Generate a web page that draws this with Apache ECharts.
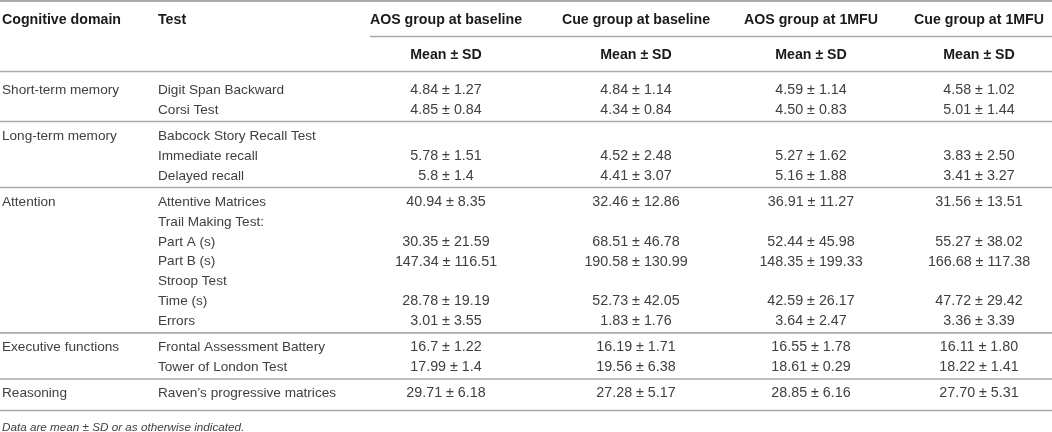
<!DOCTYPE html>
<html>
<head>
<meta charset="utf-8">
<script src="https://cdn.jsdelivr.net/npm/echarts@6/dist/echarts.min.js"></script>
<style>
    html, body { margin: 0; padding: 0; background: #fff; }
    #main { width: 1052px; height: 432px; }
</style>
</head>
<body>
<div id="main"></div>
<script>
// table content
const columns = ['Cognitive domain', 'Test', 'AOS group at baseline', 'Cue group at baseline', 'AOS group at 1MFU', 'Cue group at 1MFU'];
const subHeader = ['', '', 'Mean ± SD', 'Mean ± SD', 'Mean ± SD', 'Mean ± SD'];
const domains = ['Short-term memory', 'Long-term memory', 'Attention', 'Executive functions', 'Reasoning'];
const tests = ['Digit Span Backward', 'Corsi Test', 'Babcock Story Recall Test', 'Immediate recall', 'Delayed recall',
    'Attentive Matrices', 'Trail Making Test:', 'Part A (s)', 'Part B (s)', 'Stroop Test', 'Time (s)', 'Errors',
    'Frontal Assessment Battery', 'Tower of London Test', 'Raven\u2019s progressive matrices'];
const testGroup = [0, 0, 1, 1, 1, 2, 2, 2, 2, 2, 2, 2, 3, 3, 4];
const aosBaseline = ['4.84 ± 1.27', '4.85 ± 0.84', '', '5.78 ± 1.51', '5.8 ± 1.4', '40.94 ± 8.35', '', '30.35 ± 21.59',
    '147.34 ± 116.51', '', '28.78 ± 19.19', '3.01 ± 3.55', '16.7 ± 1.22', '17.99 ± 1.4', '29.71 ± 6.18'];
const cueBaseline = ['4.84 ± 1.14', '4.34 ± 0.84', '', '4.52 ± 2.48', '4.41 ± 3.07', '32.46 ± 12.86', '', '68.51 ± 46.78',
    '190.58 ± 130.99', '', '52.73 ± 42.05', '1.83 ± 1.76', '16.19 ± 1.71', '19.56 ± 6.38', '27.28 ± 5.17'];
const aosMfu = ['4.59 ± 1.14', '4.50 ± 0.83', '', '5.27 ± 1.62', '5.16 ± 1.88', '36.91 ± 11.27', '', '52.44 ± 45.98',
    '148.35 ± 199.33', '', '42.59 ± 26.17', '3.64 ± 2.47', '16.55 ± 1.78', '18.61 ± 0.29', '28.85 ± 6.16'];
const cueMfu = ['4.58 ± 1.02', '5.01 ± 1.44', '', '3.83 ± 2.50', '3.41 ± 3.27', '31.56 ± 13.51', '', '55.27 ± 38.02',
    '166.68 ± 117.38', '', '47.72 ± 29.42', '3.36 ± 3.39', '16.11 ± 1.80', '18.22 ± 1.41', '27.70 ± 5.31'];
const footnote = 'Data are mean ± SD or as otherwise indicated.';

// layout (pixel units of the value axes)
const colX = [2, 158, 446, 636, 811, 979];
const colAlign = ['left', 'left', 'center', 'center', 'center', 'center'];
const headerY = 20, subHeaderY = 55, firstRowY = 90, rowStep = 19.85, groupGap = 6.4;
const FONT = '"Liberation Sans", Arial, sans-serif';
const SIZES = { head: 14.2, body: 13.6, value: 14.3, note: 11.7 };

// row positions from row index and group breaks
const rowY = [];
let y = firstRowY;
tests.forEach(function (t, i) {
    if (i > 0) {
        y += rowStep;
        if (testGroup[i] !== testGroup[i - 1]) y += groupGap;
    }
    rowY.push(y);
});

// cells: [col, y, text, kind]
const cells = [];
columns.forEach(function (c, j) { cells.push([j, headerY, c, 'head']); });
subHeader.forEach(function (c, j) { if (c) cells.push([j, subHeaderY, c, 'head']); });
const valueCols = [aosBaseline, cueBaseline, aosMfu, cueMfu];
tests.forEach(function (t, i) {
    if (i === 0 || testGroup[i] !== testGroup[i - 1]) cells.push([0, rowY[i], domains[testGroup[i]], 'body']);
    cells.push([1, rowY[i], t, 'body']);
    valueCols.forEach(function (col, k) {
        if (col[i]) cells.push([k + 2, rowY[i], col[i], 'value']);
    });
});
cells.push([0, 428, footnote, 'note']);

// rules: [x1, x2, y, width]
const rules = [[0, 1052, 1, 2], [370, 1052, 36.5, 1.4], [0, 1052, 71.5, 1.6]];
tests.forEach(function (t, i) {
    if (i === tests.length - 1 || testGroup[i] !== testGroup[i + 1]) {
        const last = i === tests.length - 1;
        rules.push([0, 1052, rowY[i] + (last ? 17 : 11.7), 1.6]);
    }
});

const option = {
    animation: false,
    grid: { left: 0, right: 0, top: 0, bottom: 0 },
    xAxis: { type: 'value', min: 0, max: 1052, show: false },
    yAxis: { type: 'value', min: 0, max: 432, inverse: true, show: false },
    series: [{
        type: 'custom',
        data: rules,
        renderItem: function (params, api) {
            const p1 = api.coord([api.value(0), api.value(2)]);
            const p2 = api.coord([api.value(1), api.value(2)]);
            return {
                type: 'line',
                shape: { x1: p1[0], y1: p1[1], x2: p2[0], y2: p2[1] },
                style: { stroke: '#ababab', lineWidth: api.value(3) }
            };
        }
    }, {
        type: 'custom',
        data: cells,
        renderItem: function (params, api) {
            const c = cells[params.dataIndex];
            const p = api.coord([colX[c[0]], c[1]]);
            const kind = c[3];
            return {
                type: 'text',
                x: p[0],
                y: p[1],
                style: {
                    text: c[2],
                    fill: kind === 'head' ? '#1a1a1a' : '#404040',
                    fontFamily: FONT,
                    fontSize: SIZES[kind],
                    fontWeight: kind === 'head' ? 'bold' : 'normal',
                    fontStyle: kind === 'note' ? 'italic' : 'normal',
                    align: colAlign[c[0]],
                    verticalAlign: 'middle'
                }
            };
        }
    }]
};

const chart = echarts.init(document.getElementById('main'));
chart.setOption(option);
window.addEventListener('resize', function () {
    chart.resize();
});
</script>
</body>
</html>
